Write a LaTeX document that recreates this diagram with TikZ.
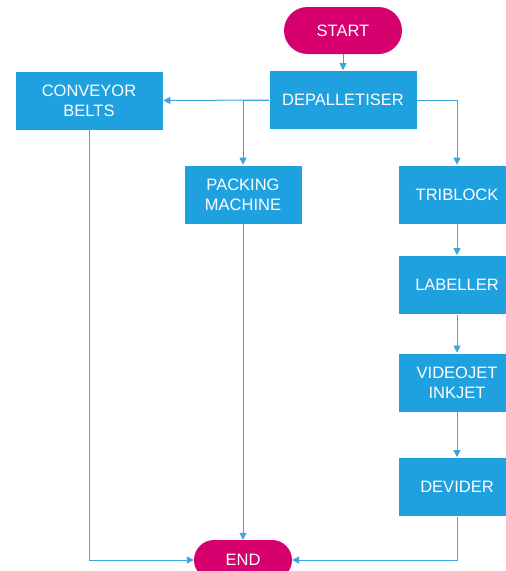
\documentclass[tikz,border=0pt]{standalone}
\usepackage{fontspec}
\setmainfont{Liberation Sans}
\usetikzlibrary{arrows.meta}
\definecolor{boxblue}{HTML}{1FA1E0}
\definecolor{linkblue}{HTML}{3AA6DE}
\definecolor{termpink}{HTML}{D6006F}
\tikzset{
  lbl/.style={text=white, font=\fontsize{16.5}{20}\selectfont, align=center, inner sep=0pt},
  procbox/.style={lbl, fill=boxblue, draw=white, line width=0.6pt, minimum width=118pt, minimum height=59pt},
  widebox/.style={procbox, minimum width=148pt},
  termbox/.style={lbl, fill=termpink, rounded corners=#1, minimum height=2*#1},
  link/.style={draw=linkblue, line width=1pt, -{Triangle[length=7pt,width=7pt]}},
  plainlink/.style={draw=linkblue, line width=1pt}
}
\begin{document}
\begin{tikzpicture}[x=1pt,y=-1pt]
\useasboundingbox (0,0) rectangle (506,571);
\begin{scope}
\clip (0,0) rectangle (506,571);
\node[termbox=23.5pt, minimum width=118pt] (start) at (343,30.5) {START};
\node[widebox] (dep) at (343,100) {DEPALLETISER};
\node[widebox] (conv) at (89,100.5) {CONVEYOR\\BELTS};
\node[procbox] (pack) at (243,194.5) {PACKING\\MACHINE};
\node[procbox] (tri) at (457,194.5) {TRIBLOCK};
\node[procbox] (lab) at (457,285) {LABELLER};
\node[procbox] (vid) at (457,382.5) {VIDEOJET\\INKJET};
\node[procbox] (dev) at (457,487) {DEVIDER};
\node[termbox=20pt, minimum width=98pt] (end) at (243,560) {END};

\draw[link] (start) -- (dep);
\draw[link] (dep.west) -- (conv.east);
\draw[link] (dep.west) -| (pack.north);
\draw[link] (dep.east) -| (tri.north);
\draw[link] (tri) -- (lab);
\draw[link] (lab) -- (vid);
\draw[link] (vid) -- (dev);
\draw[link] (dev.south) |- (end.east);
\draw[link] (conv.south) |- (end.west);
\draw[link] (pack.south) -- (end.north);
\end{scope}
\end{tikzpicture}
\end{document}
